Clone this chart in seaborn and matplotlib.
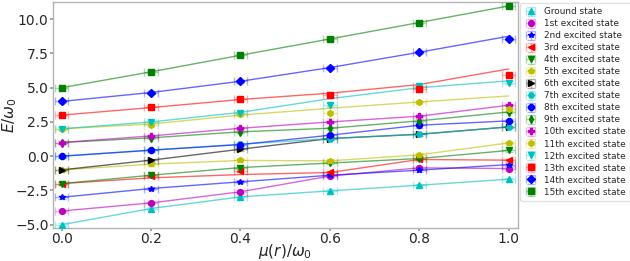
import numpy as np
import pandas as pd
import matplotlib
matplotlib.use("Agg")
import matplotlib.pyplot as plt
import seaborn as sns

# ---- data ----
mu = [0.0, 0.2, 0.4, 0.6, 0.8, 1.0]

labels = ["Ground state", "1st excited state", "2nd excited state", "3rd excited state",
          "4th excited state", "5th excited state", "6th excited state", "7th excited state",
          "8th excited state", "9th excited state", "10th excited state", "11th excited state",
          "12th excited state", "13th excited state", "14th excited state", "15th excited state"]

colors = ["#00bfbf", "#bf00bf", "#0000ff", "#ff0000", "#008000", "#bfbf00", "#000000", "#00bfbf",
          "#0000ff", "#008000", "#bf00bf", "#bfbf00", "#00bfbf", "#ff0000", "#0000ff", "#008000"]
markers = ["^", "o", "*", "<", "v", "p", ">", "H", "8", "d", "P", "h", "v", "s", "D", "s"]

# numerical energies (markers)
E0 = [-5.0, -3.82, -2.97, -2.53, -2.12, -1.68]
E1 = [-4.0, -3.41, -2.60, -1.45, -0.85, -0.90]
E2 = [-3.0, -2.36, -1.87, -1.39, -1.02, -0.61]
E3 = [-2.0, -1.44, -1.05, -1.19, -0.24, -0.29]
E4 = [-2.0, -1.39, -0.83, -0.50, -0.17, 0.42]
E5 = [-1.0, -0.58, -0.31, -0.34, 0.10, 0.97]
E6 = [-1.0, -0.29, 0.51, 1.29, 1.60, 2.14]
E7 = [0.0, 0.44, 0.87, 1.29, 1.60, 2.14]
E8 = [0.0, 0.44, 0.85, 1.53, 2.26, 2.58]
E9 = [1.0, 1.34, 1.78, 2.04, 2.58, 3.23]
E10 = [1.0, 1.48, 2.04, 2.50, 2.92, 3.72]
E11 = [2.0, 2.29, 3.07, 3.16, 3.96, 3.43]
E12 = [2.0, 2.48, 3.16, 3.77, 5.11, 5.38]
E13 = [3.0, 3.58, 4.14, 4.45, 4.87, 5.91]
E14 = [4.0, 4.65, 5.47, 6.47, 7.59, 8.59]
E15 = [5.0, 6.16, 7.37, 8.56, 9.76, 10.97]
energies = [E0, E1, E2, E3, E4, E5, E6, E7, E8, E9, E10, E11, E12, E13, E14, E15]

# reference curves (lines) where they differ from the markers
L3 = [-2.0, -1.58, -1.34, -1.19, -0.24, -0.29]
L11 = [2.0, 2.35, 3.00, 3.50, 3.96, 4.40]
L12 = [2.0, 2.50, 3.20, 4.20, 5.00, 5.50]
L13 = [3.0, 3.55, 4.14, 4.60, 5.23, 6.37]
L14 = [4.0, 4.65, 5.47, 6.47, 7.59, 8.76]
lines = list(energies)
lines[3], lines[11], lines[12], lines[13], lines[14] = L3, L11, L12, L13, L14

# uncertainties
yerr_default = 0.1
xerr_default = 0.015
yerr_big = {(11, 3): 0.40, (5, 3): 0.15, (8, 4): 0.2, (12, 3): 0.12}

# ---- plot ----
sns.set_theme(style="white")
plt.rcParams["font.family"] = ["DejaVu Sans"]
plt.rcParams["mathtext.fontset"] = "dejavusans"

fig = plt.figure(figsize=(6.30, 2.61), dpi=100)
ax = fig.add_axes([0.0837, 0.1276, 0.8217 - 0.0837, 0.9935 - 0.1276])

rows = []
for i, ys in enumerate(lines):
    for x, y in zip(mu, ys):
        rows.append({"mu": x, "E": y, "state": labels[i]})
df = pd.DataFrame(rows)
palette = {labels[i]: colors[i] for i in range(16)}
sns.lineplot(data=df, x="mu", y="E", hue="state", palette=palette, estimator=None,
             sort=False, legend=False, linewidth=1.0, alpha=0.6, ax=ax)

for i, ys in enumerate(energies):
    yerr = [yerr_big.get((i, j), yerr_default) for j in range(len(mu))]
    eb = ax.errorbar(mu, ys, yerr=yerr, xerr=xerr_default, fmt=markers[i], color=colors[i],
                     markersize=4.2, elinewidth=1.0, capsize=3, capthick=1.0,
                     ecolor=colors[i], label=labels[i], zorder=3)
    for coll in eb[2]:
        coll.set_alpha(0.3)
    for cap in eb[1]:
        cap.set_alpha(0.3)

ax.set_xlim(-0.02, 1.02)
ax.set_ylim(-5.22, 11.28)
ax.set_xticks([0.0, 0.2, 0.4, 0.6, 0.8, 1.0])
ax.set_yticks([-5.0, -2.5, 0.0, 2.5, 5.0, 7.5, 10.0])
ax.tick_params(axis="both", labelsize=10, length=2, direction="out", color="0.6",
               left=True, bottom=True, pad=1)
for s in ax.spines.values():
    s.set_color("0.7")
    s.set_linewidth(1.0)
ax.set_xlabel(r"$\mu(r)/\omega_0$", fontsize=11, labelpad=-3)
ax.set_ylabel(r"$E/\omega_0$", fontsize=11, labelpad=-3)

leg = ax.legend(loc="upper left", bbox_to_anchor=(1.006, 0.995), fontsize=6.4,
                labelspacing=0.34, borderaxespad=0.0, frameon=True, handlelength=1.3,
                handletextpad=0.9, borderpad=0.5)
leg.get_frame().set_edgecolor("0.85")

fig.savefig("out.png", dpi=100)
